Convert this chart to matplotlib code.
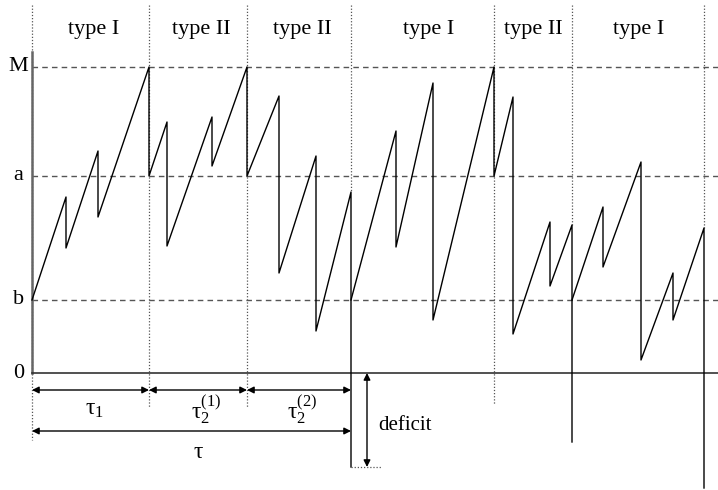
import matplotlib
matplotlib.use("Agg")
import matplotlib.pyplot as plt

plt.rcParams['font.family'] = ['Liberation Serif', 'DejaVu Serif']
plt.rcParams['mathtext.fontset'] = 'custom'
plt.rcParams['mathtext.rm'] = 'Liberation Serif'
plt.rcParams['mathtext.it'] = 'Liberation Serif'

# levels
M_level, a_level, b_level = 306, 197, 73
level_labels = ["M", "a", "b", "0"]
level_values = [306, 197, 73, 0]

# sawtooth segments (time, value)
seg1_t = [0, 34, 34, 66, 66, 117, 117, 135, 135, 180, 180, 215, 215, 247, 247, 284, 284, 319, 319]
seg1_v = [73, 176, 125, 222, 156, 306, 197, 251, 127, 256, 207, 306, 197, 277, 100, 217, 42, 181, -94]
seg2_t = [319, 364, 364, 401, 401, 462, 462, 481, 481, 518, 518, 540, 540]
seg2_v = [73, 242, 126, 290, 53, 306, 197, 276, 39, 151, 87, 148, -69]
seg3_t = [540, 571, 571, 609, 609, 641, 641, 672, 672]
seg3_v = [73, 166, 106, 211, 13, 100, 53, 145, -115]

# regime boundaries and labels
bound_t = [0, 117, 215, 319, 462, 540, 672]
bound_bottom = [-67, -35, -35, 181, -31, 148, 145]
type_labels = ["type I", "type II", "type II", "type I", "type II", "type I"]
type_label_t = [62, 169, 270, 397, 501, 607]

t_end = 686

fig = plt.figure(figsize=(7.18, 4.90), dpi=100)
ax = fig.add_axes([0, 0, 1, 1])
ax.set_xlim(-32, 686)
ax.set_ylim(-117, 373)
ax.axis('off')

grey = '#555555'
# dotted boundaries
for t, bt in zip(bound_t, bound_bottom):
    ax.plot([t, t], [368, bt], color=grey, lw=0.9, ls=(0, (1, 1.5)))

# dashed levels
for v in [M_level, a_level, b_level]:
    ax.plot([0, t_end], [v, v], color=grey, lw=1.0, ls=(0, (4, 3)))

# axes
ax.plot([0, 0], [321, 0], color='#666666', lw=1.8)
ax.plot([0, t_end], [0, 0], color='#333333', lw=1.2)

# sawtooth
for ts, vs in [(seg1_t, seg1_v), (seg2_t, seg2_v), (seg3_t, seg3_v)]:
    ax.plot(ts, vs, color='black', lw=1.0)

# level labels
for lab, v in zip(level_labels, level_values):
    ax.text(-13.5, v, lab, fontsize=16, ha='center', va='center')

for lab, t in zip(type_labels, type_label_t):
    ax.text(t, 343, lab, fontsize=16, ha='center', va='center')

ap = dict(arrowstyle='<|-|>', mutation_scale=10, shrinkA=0, shrinkB=0, lw=1.0, color='black')
# tau arrows
ax.annotate('', xy=(0, -17), xytext=(117, -17), arrowprops=ap)
ax.annotate('', xy=(117, -17), xytext=(215, -17), arrowprops=ap)
ax.annotate('', xy=(215, -17), xytext=(319, -17), arrowprops=ap)
ax.annotate('', xy=(0, -58), xytext=(319, -58), arrowprops=ap)
ax.text(62, -36, r'$\mathrm{τ}_1$', fontsize=17, ha='center', va='center')
ax.text(174, -37, r'$\mathrm{τ}_2^{(1)}$', fontsize=17, ha='center', va='center')
ax.text(270, -37, r'$\mathrm{τ}_2^{(2)}$', fontsize=17, ha='center', va='center')
ax.text(166, -79, r'$\mathrm{τ}$', fontsize=17, ha='center', va='center')

# deficit
ax.annotate('', xy=(335, 0), xytext=(335, -94), arrowprops=ap)
ax.plot([319, 349], [-94, -94], color=grey, lw=0.9, ls=(0, (1, 1.5)))
ax.text(346, -52, 'deficit', fontsize=15, ha='left', va='center')

fig.savefig('out.png', dpi=100)
